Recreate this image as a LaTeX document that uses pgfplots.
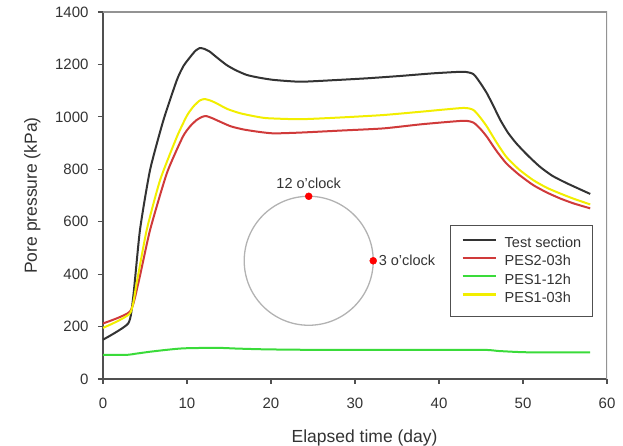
\documentclass[border=0pt]{standalone}
\usepackage{pgfplots}
\pgfplotsset{compat=1.18}
\usepackage{fontspec}
\setmainfont{Liberation Sans}
\definecolor{tsblack}{HTML}{333333}
\definecolor{pesred}{HTML}{D03A3A}
\definecolor{pesgreen}{HTML}{3ADB3A}
\definecolor{pesyellow}{HTML}{F2EE00}
\definecolor{frame}{HTML}{505050}

\begin{document}
\begin{tikzpicture}
\useasboundingbox (-103pt,-67pt) rectangle (520pt,379pt);
\begin{axis}[
  at={(0,0)}, anchor=south west,
  scale only axis, width=504pt, height=367pt,
  xmin=0, xmax=60, ymin=0, ymax=1400,
  xtick={0,10,...,60}, ytick={0,200,...,1400},
  axis x line*=bottom, axis y line*=left,
  axis line style={-, draw=frame, line width=1.3pt},
  tick align=outside, major tick length=5pt,
  tick style={draw=frame, line width=1.1pt},
  /pgf/number format/assume math mode=true,
  /pgf/number format/1000 sep={},
  ticklabel style={font=\fontsize{15}{18}\selectfont, text=black!80},
  xticklabel style={yshift=-10pt},
  yticklabel style={xshift=-6pt},
  label style={font=\fontsize{17.5}{20}\selectfont, text=black!80},
  xlabel={Elapsed time (day)}, ylabel={Pore pressure (kPa)},
  xlabel style={at={(axis description cs:0.519,-0.161)}, anchor=center},
  ylabel style={at={(axis description cs:-0.14,0.5)}, anchor=center},
  legend style={at={(0.972,0.4196)}, anchor=north east, draw=frame, line width=1.2pt,
    font=\fontsize{14.5}{17}\selectfont, text=black!80,
    inner xsep=11pt, inner ysep=11pt, row sep=4.3pt,
    nodes={inner sep=0pt, text height=11pt, text depth=3pt},
    /tikz/every odd column/.append style={column sep=8pt},
    cells={anchor=west}},
  legend image code/.code={\draw[#1, line width=2.2pt] (0pt,4pt) -- (33pt,4pt);},
  every axis plot/.append style={smooth, tension=0.35},
]
% Test section
\addplot[tsblack, line width=2pt] coordinates {
(0,150) (3.0,212) (3.6,314) (4.4,568) (5.6,797) (7.2,988) (8.8,1141) (9.6,1195)
(10.4,1229) (11.0,1252) (11.5,1262) (12.0,1260) (12.7,1249) (13.5,1228) (14.7,1198)
(15.8,1178) (17.1,1160) (18.5,1150) (20.3,1141) (23.5,1134) (27.5,1140) (31.4,1147)
(35.4,1156) (39.3,1166) (42.9,1172) (44.1,1163) (44.9,1130) (45.7,1090) (46.5,1040)
(47.3,988) (48.2,940) (49.2,899) (50.5,855) (52.0,810) (53.5,775) (55.2,747) (58,706)
};
% PES2-03h
\addplot[pesred, line width=2pt] coordinates {
(0,212) (3.2,257) (4.2,365) (5.6,568) (7.6,785) (9.5,924) (10.4,965) (11.15,988)
(11.8,1000) (12.3,1003) (13.0,995) (13.9,982) (15.2,964) (16.7,952) (18.5,943)
(20.3,937) (23.5,940) (28.5,948) (33.4,956) (38,972) (42.9,985) (44.1,978) (44.9,955)
(45.7,924) (46.8,872) (48.0,823) (49.5,780) (51.2,740) (52.8,712) (54.4,689) (56,670) (58,651)
};
% PES1-12h
\addplot[pesgreen, line width=2pt] coordinates {
(0,92) (2.8,92) (4,97) (5.6,104) (7.5,111) (9.6,117) (13.5,119) (16,116) (19.5,113)
(25.8,111) (35,111) (45.3,111) (47,107) (50.4,102) (58,102)
};
% PES1-03h
\addplot[pesyellow, line width=2pt] coordinates {
(0,195) (3.2,250) (4.0,365) (5.2,568) (6.8,759) (8.8,924) (10.0,1005) (10.75,1039)
(11.5,1062) (12.1,1068) (12.8,1062) (13.5,1052) (14.8,1030) (16.3,1014) (17.9,1003)
(19.5,995) (23.5,991) (28.5,998) (33.4,1007) (38,1020) (42.9,1034) (44.1,1026)
(44.9,998) (45.7,963) (46.8,905) (48.0,848) (49.5,800) (51.2,759) (52.8,730)
(54.4,708) (56,688) (58,666)
};
\legend{Test section, PES2-03h, PES1-12h, PES1-03h}

% cross-section sketch
\draw[gray!60, line width=1.3pt] (axis cs:24.49,451) ellipse [x radius=7.68, y radius=246];
\addplot[only marks, mark=*, mark size=3.5pt, color=red, forget plot]
  coordinates {(24.49,697) (32.17,451)};
\node[anchor=south, yshift=4pt, font=\fontsize{14.5}{17}\selectfont, text=black!80]
  at (axis cs:24.49,697) {12 o'clock};
\node[anchor=west, xshift=2pt, font=\fontsize{14.5}{17}\selectfont, text=black!80]
  at (axis cs:32.17,451) {3 o'clock};

% lighter top and right frame
\draw[gray!85, line width=1.3pt] (rel axis cs:0,1) -- (rel axis cs:1,1) -- (rel axis cs:1,0);
\end{axis}
\end{tikzpicture}
\end{document}
